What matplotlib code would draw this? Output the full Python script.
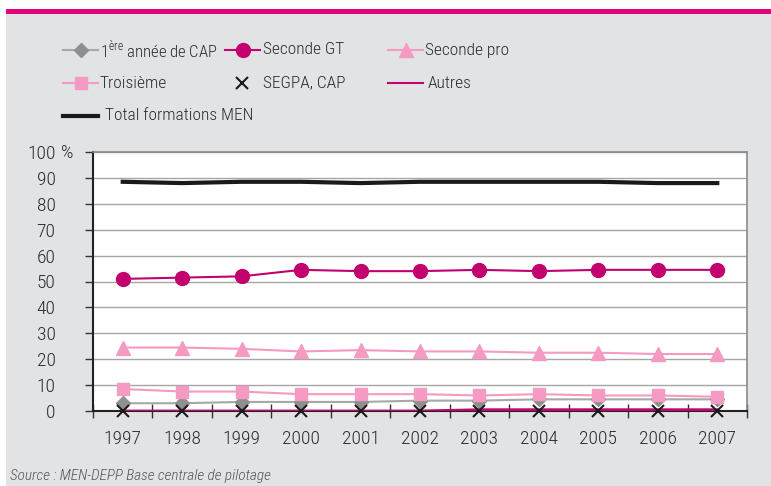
import numpy as np
import matplotlib.pyplot as plt
from matplotlib import font_manager as fm
from matplotlib.lines import Line2D
from matplotlib.patches import Rectangle

# pick a narrow sans if one is installed
FONT, STRETCH = "DejaVu Sans", "condensed"
for name in ["Liberation Sans Narrow", "Roboto Condensed", "Open Sans Condensed"]:
    try:
        fm.findfont(fm.FontProperties(family=name), fallback_to_default=False)
        FONT, STRETCH = name, "normal"
        break
    except ValueError:
        pass
plt.rcParams["font.family"] = [FONT, "DejaVu Sans"]
plt.rcParams["font.stretch"] = STRETCH
plt.rcParams["font.weight"] = "light"
plt.rcParams["mathtext.fontset"] = "custom"
plt.rcParams["mathtext.rm"] = FONT + ":light"

years = ["1997", "1998", "1999", "2000", "2001", "2002", "2003", "2004", "2005", "2006", "2007"]
total_men = [88.5, 88.0, 88.5, 88.5, 88.0, 88.5, 88.5, 88.5, 88.5, 88.0, 88.0]
seconde_gt = [51.0, 51.5, 52.0, 54.5, 54.0, 54.0, 54.5, 54.0, 54.5, 54.5, 54.5]
seconde_pro = [24.5, 24.5, 24.0, 23.0, 23.5, 23.0, 23.0, 22.5, 22.5, 22.0, 22.0]
troisieme = [8.5, 7.5, 7.5, 6.5, 6.5, 6.5, 6.0, 6.5, 6.0, 6.0, 5.5]
cap_1ere = [3.0, 3.0, 3.5, 3.5, 3.5, 4.0, 4.0, 4.5, 4.5, 4.5, 4.5]
segpa_cap = [0, 0, 0, 0, 0, 0, 0, 0, 0, 0, 0]
autres = [0, 0, 0, 0, 0, 0, 0.5, 0.5, 0.5, 0.5, 0.5]

MAGENTA = "#c2006e"
PINK = "#f49ac3"
GREY = "#8f8f8f"
TXT = "#2b2b2b"

W, H = 771, 486
fig = plt.figure(figsize=(W / 100, H / 100), dpi=100, facecolor="white")

# background panel and pink band
fig.add_artist(Rectangle((6 / W, 0), 1, 1 - 12 / H, transform=fig.transFigure,
                         facecolor="#e2e3e5", edgecolor="none", zorder=0))
fig.add_artist(Rectangle((6 / W, 1 - 14.5 / H), 1, 5 / H, transform=fig.transFigure,
                         facecolor="#e6007e", edgecolor="none", zorder=1))

ax = fig.add_axes([93 / W, (H - 411) / H, (747 - 93) / W, (411 - 152) / H])
ax.set_facecolor("white")
x = np.arange(len(years))

ax.plot(x, total_men, color="#1a1a1a", lw=3, zorder=5)
ax.plot(x, seconde_gt, color=MAGENTA, lw=1.5, marker="o", ms=10, zorder=5)
ax.plot(x, seconde_pro, color=PINK, lw=1.5, marker="^", ms=10, zorder=5)
ax.plot(x, cap_1ere, color="#a8a8a8", lw=1.5, marker="D", ms=7, mfc=GREY, mec=GREY, zorder=4)
ax.plot(x, troisieme, color=PINK, lw=1.5, marker="s", ms=8, zorder=5)
ax.plot(x, autres, color=MAGENTA, lw=2, zorder=6)
ax.plot(x, segpa_cap, ls="none", marker="x", ms=8, mew=1.5, color="#1a1a1a", zorder=7, clip_on=False)

ax.set_xlim(-0.5, len(years) - 0.5)
ax.set_ylim(0, 100)
ax.set_yticks(np.arange(0, 101, 10))
ax.set_yticklabels([str(v) for v in range(0, 101, 10)])
ax.set_xticks(x)
ax.set_xticklabels(years)
ax.set_xticks(np.arange(-0.5, len(years)), minor=True)
ax.tick_params(axis="x", which="major", length=0, pad=14, labelsize=14, labelcolor=TXT)
ax.tick_params(axis="x", which="minor", direction="inout", length=10, width=1, color="#333")
ax.tick_params(axis="y", which="major", direction="out", length=6, width=1, color="#333",
               labelsize=14, labelcolor=TXT, pad=21)
ax.grid(axis="y", color="#a6a6a6", lw=1)
ax.set_axisbelow(True)
for s in ["left", "bottom"]:
    ax.spines[s].set_color("#222")
    ax.spines[s].set_linewidth(1.5)
for s in ["top", "right"]:
    ax.spines[s].set_color("#8a8a8a")
    ax.spines[s].set_linewidth(1.2)
# unit sign next to the top tick label
fig.text(61 / W, 1 - 153 / H, "%", fontsize=14, color=TXT, va="center", ha="left")

# legend drawn by hand in figure pixels: (handle x, row y, text x, style, label)
items = [
    (63, 50, 100, dict(color="#a8a8a8", marker="D", ms=7, mfc=GREY, mec=GREY), r"1$^{\mathrm{ère}}$ année de CAP"),
    (225, 50, 263, dict(color=MAGENTA, marker="o", ms=10), "Seconde GT"),
    (388, 50, 425, dict(color=PINK, marker="^", ms=10), "Seconde pro"),
    (63, 83, 100, dict(color=PINK, marker="s", ms=8), "Troisième"),
    (224, 83, 263, dict(color="#1a1a1a", marker="x", ms=8, mew=1.5, line=False), "SEGPA, CAP"),
    (388, 83, 428, dict(color=MAGENTA, lw=1.5), "Autres"),
    (63, 116, 105, dict(color="#1a1a1a", lw=3), "Total formations MEN"),
]
for px, py, tx, st, label in items:
    yy = 1 - py / H
    if st.get("line", True):
        fig.add_artist(Line2D([px / W, (px + 35) / W], [yy, yy], transform=fig.transFigure,
                              color=st["color"], lw=st.get("lw", 1.5)))
    if "marker" in st:
        fig.add_artist(Line2D([(px + 17.5) / W], [yy], transform=fig.transFigure, ls="none",
                              marker=st["marker"], ms=st["ms"], color=st["color"],
                              mfc=st.get("mfc", st["color"]), mec=st.get("mec", st["color"]),
                              mew=st.get("mew", 1)))
    fig.text(tx / W, yy, label, fontsize=12 if tx == 100 and py == 50 else 12.5, color=TXT,
             va="center", ha="left")

fig.text(10 / W, 1 - 476 / H, "Source : MEN-DEPP Base centrale de pilotage",
         fontsize=11, style="italic", color="#555", va="center", ha="left")

fig.savefig("out.png", dpi=100, facecolor=fig.get_facecolor())
